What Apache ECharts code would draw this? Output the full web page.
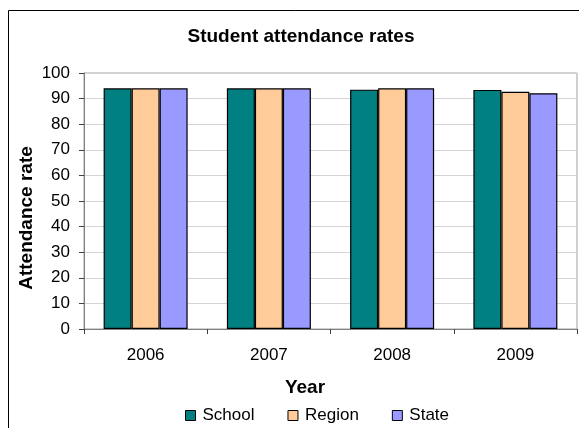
<!DOCTYPE html>
<html>
<head>
<meta charset="utf-8">
<script src="https://cdn.jsdelivr.net/npm/echarts@6/dist/echarts.min.js"></script>
<style>
html,body{margin:0;padding:0;background:#fff;}
#chart{width:579px;height:428px;}
</style>
</head>
<body>
<div id="chart"></div>
<script>
const titleText = 'Student attendance rates';
const xAxisTitle = 'Year';
const yAxisTitle = 'Attendance rate';
const categories = ['2006', '2007', '2008', '2009'];
const seriesNames = ['School', 'Region', 'State'];
const schoolValues = [94.0, 94.0, 93.5, 93.4];
const regionValues = [94.0, 94.0, 94.0, 92.7];
const stateValues = [94.0, 94.0, 94.0, 92.1];
const yTicks = [0, 10, 20, 30, 40, 50, 60, 70, 80, 90, 100];

const colors = ['#008080', '#FFCC99', '#9999FF'];
const allValues = [schoolValues, regionValues, stateValues];
const font = '"Liberation Sans", Arial, sans-serif';

const chart = echarts.init(document.getElementById('chart'), null, {renderer: 'canvas'});
chart.setOption({
  animation: false,
  backgroundColor: '#ffffff',
  title: {
    text: titleText,
    left: 296,
    top: 22,
    textAlign: 'center',
    textStyle: {fontFamily: font, fontSize: 19, fontWeight: 'bold', color: '#000'}
  },
  grid: {
    left: 84, top: 73, right: 2, bottom: 99,
    show: true, borderColor: '#a0a0a0', borderWidth: 1, backgroundColor: 'transparent',
    containLabel: false
  },
  legend: {
    data: seriesNames,
    left: 180,
    top: 402,
    icon: 'rect',
    itemWidth: 10,
    itemHeight: 10,
    itemGap: 33,
    textStyle: {fontFamily: font, fontSize: 17, color: '#000', padding: [0, 0, 0, 2]},
    itemStyle: {borderColor: '#000', borderWidth: 1}
  },
  xAxis: {
    type: 'category',
    data: categories,
    axisLine: {lineStyle: {color: '#808080', width: 1}},
    axisTick: {show: true, length: 5, inside: false, alignWithLabel: false, lineStyle: {color: '#404040'}},
    axisLabel: {fontFamily: font, fontSize: 17, color: '#000', margin: 18},
    splitLine: {show: false}
  },
  yAxis: {
    type: 'value',
    min: yTicks[0],
    max: yTicks[yTicks.length - 1],
    interval: yTicks[1] - yTicks[0],
    axisLine: {show: true, lineStyle: {color: '#808080', width: 1}},
    axisTick: {show: true, length: 5, lineStyle: {color: '#404040'}},
    axisLabel: {fontFamily: font, fontSize: 17, color: '#000', margin: 14},
    splitLine: {show: true, lineStyle: {color: '#d4d4d4', width: 1}}
  },
  series: seriesNames.map((name, i) => ({
    name: name,
    type: 'bar',
    data: allValues[i],
    barWidth: 28,
    barGap: '0%',
    itemStyle: {color: colors[i], borderColor: '#000', borderWidth: 1.2}
  })),
  graphic: [
    {
      type: 'rect',
      silent: true,
      z: -10,
      shape: {x: 8.5, y: 10.5, width: 620, height: 450},
      style: {fill: 'transparent', stroke: '#000', lineWidth: 1}
    },
    {
      type: 'text',
      x: 305,
      y: 388,
      style: {text: xAxisTitle, font: 'bold 19px ' + font, fill: '#000', textAlign: 'center', textVerticalAlign: 'middle'}
    },
    {
      type: 'text',
      x: 27,
      y: 218,
      rotation: Math.PI / 2,
      style: {text: yAxisTitle, font: 'bold 19px ' + font, fill: '#000', textAlign: 'center', textVerticalAlign: 'middle'}
    }
  ]
});
</script>
</body>
</html>
